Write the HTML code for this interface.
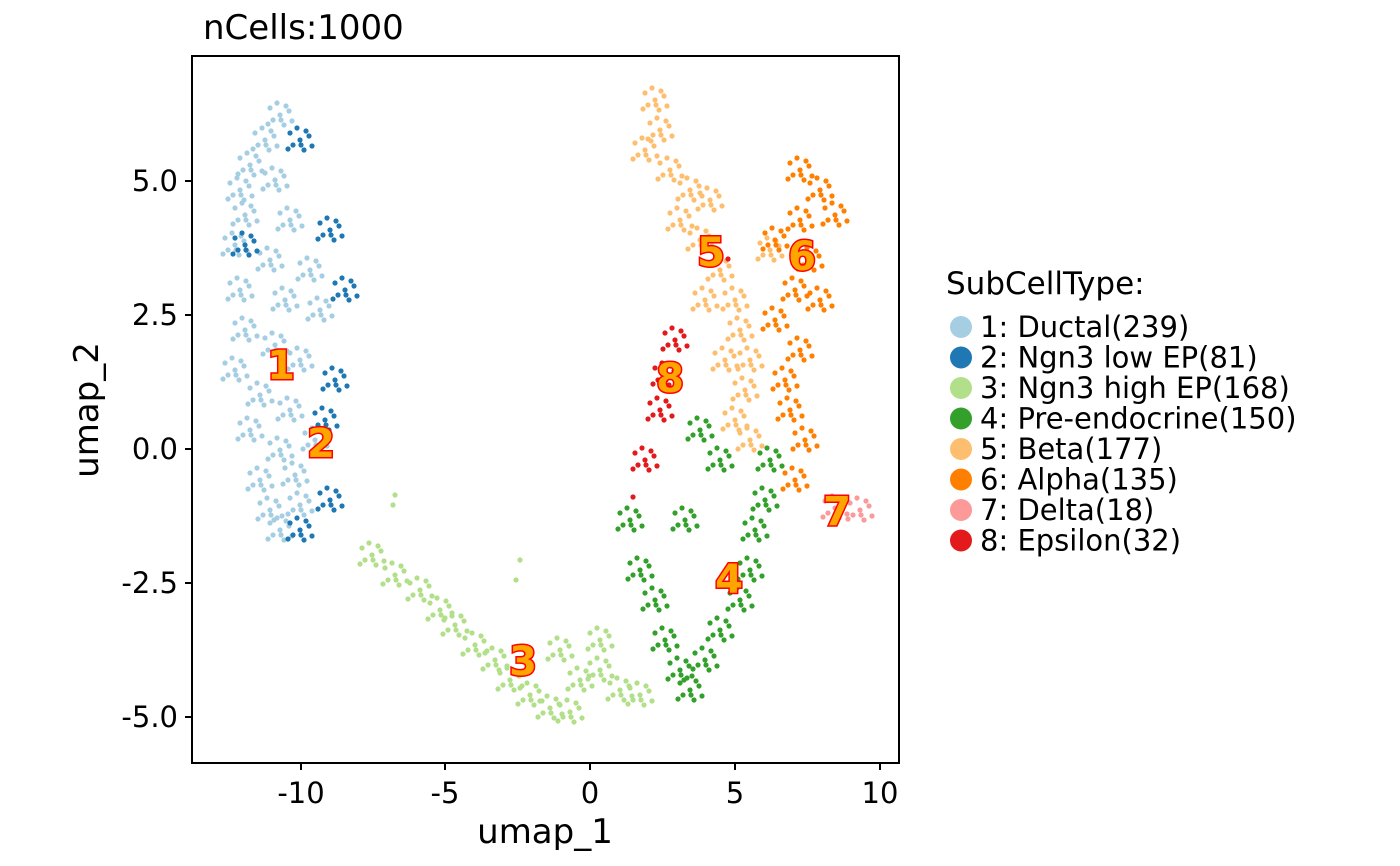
<!DOCTYPE html>
<html><head><meta charset="utf-8"><style>
html,body{margin:0;padding:0;background:#fff;}
svg{display:block;font-family:"DejaVu Sans","Liberation Sans",sans-serif;}
</style></head><body>
<svg width="1400" height="866" xmlns="http://www.w3.org/2000/svg" xmlns:xlink="http://www.w3.org/1999/xlink">
<defs>
<g id="b">
<circle cx="0" cy="0" r="2.6"/><circle cx="9" cy="-4" r="2.6"/><circle cx="-7" cy="5" r="2.6"/><circle cx="4" cy="10" r="2.6"/><circle cx="-10" cy="-7" r="2.6"/><circle cx="12" cy="6" r="2.6"/><circle cx="-3" cy="-12" r="2.6"/><circle cx="6" cy="-9" r="2.6"/><circle cx="-12" cy="9" r="2.6"/><circle cx="1" cy="5" r="2.6"/>
</g>
</defs>
<rect width="1400" height="866" fill="#fff"/>
<g fill="#A6CEE3">
<use href="#b" x="280" y="115"/><use href="#b" x="265" y="140"/><use href="#b" x="250" y="165"/><use href="#b" x="240" y="190"/><use href="#b" x="275" y="180"/><use href="#b" x="245" y="215"/><use href="#b" x="290" y="220"/><use href="#b" x="235" y="245"/><use href="#b" x="270" y="260"/><use href="#b" x="310" y="270"/><use href="#b" x="240" y="290"/><use href="#b" x="285" y="300"/><use href="#b" x="320" y="310"/><use href="#b" x="245" y="330"/><use href="#b" x="275" y="345"/><use href="#b" x="235" y="370"/><use href="#b" x="300" y="360"/><use href="#b" x="260" y="395"/><use href="#b" x="290" y="410"/><use href="#b" x="250" y="430"/><use href="#b" x="280" y="450"/><use href="#b" x="315" y="440"/><use href="#b" x="260" y="480"/><use href="#b" x="295" y="475"/><use href="#b" x="270" y="510"/><use href="#b" x="300" y="505"/><use href="#b" x="280" y="530"/>
</g>
<g fill="#1F78B4">
<use href="#b" x="300" y="140"/><use href="#b" x="330" y="230"/><use href="#b" x="345" y="290"/><use href="#b" x="245" y="245"/><use href="#b" x="335" y="380"/><use href="#b" x="325" y="420"/><use href="#b" x="330" y="500"/><use href="#b" x="300" y="530"/>
</g>
<g fill="#B2DF8A">
<use href="#b" x="372" y="555"/><use href="#b" x="395" y="575"/><use href="#b" x="420" y="590"/><use href="#b" x="440" y="610"/><use href="#b" x="455" y="625"/><use href="#b" x="475" y="645"/><use href="#b" x="495" y="660"/><use href="#b" x="510" y="680"/><use href="#b" x="530" y="695"/><use href="#b" x="550" y="708"/><use href="#b" x="570" y="712"/><use href="#b" x="580" y="680"/><use href="#b" x="600" y="670"/><use href="#b" x="620" y="690"/><use href="#b" x="640" y="695"/><use href="#b" x="560" y="650"/><use href="#b" x="600" y="640"/>
<circle cx="395" cy="495" r="2.6"/><circle cx="393" cy="505" r="2.6"/><circle cx="520" cy="560" r="2.6"/><circle cx="516" cy="580" r="2.6"/>
</g>
<g fill="#33A02C">
<use href="#b" x="630" y="520"/><use href="#b" x="640" y="570"/><use href="#b" x="655" y="600"/><use href="#b" x="665" y="640"/><use href="#b" x="680" y="670"/><use href="#b" x="690" y="690"/><use href="#b" x="705" y="660"/><use href="#b" x="720" y="630"/><use href="#b" x="740" y="600"/><use href="#b" x="750" y="570"/><use href="#b" x="755" y="530"/><use href="#b" x="765" y="500"/><use href="#b" x="770" y="460"/><use href="#b" x="720" y="460"/><use href="#b" x="700" y="430"/><use href="#b" x="685" y="520"/>
</g>
<g fill="#FDBF6F">
<use href="#b" x="655" y="100"/><use href="#b" x="660" y="130"/><use href="#b" x="645" y="150"/><use href="#b" x="670" y="170"/><use href="#b" x="690" y="190"/><use href="#b" x="710" y="200"/><use href="#b" x="680" y="220"/><use href="#b" x="700" y="240"/><use href="#b" x="720" y="270"/><use href="#b" x="705" y="300"/><use href="#b" x="735" y="300"/><use href="#b" x="740" y="330"/><use href="#b" x="725" y="360"/><use href="#b" x="750" y="360"/><use href="#b" x="745" y="390"/><use href="#b" x="735" y="420"/><use href="#b" x="750" y="440"/><use href="#b" x="770" y="250"/>
</g>
<g fill="#FF7F00">
<use href="#b" x="800" y="170"/><use href="#b" x="820" y="190"/><use href="#b" x="835" y="215"/><use href="#b" x="800" y="220"/><use href="#b" x="775" y="240"/><use href="#b" x="810" y="260"/><use href="#b" x="795" y="290"/><use href="#b" x="820" y="300"/><use href="#b" x="775" y="320"/><use href="#b" x="800" y="350"/><use href="#b" x="785" y="380"/><use href="#b" x="790" y="410"/><use href="#b" x="805" y="440"/><use href="#b" x="795" y="480"/>
</g>
<g fill="#FB9A99">
<use href="#b" x="835" y="508"/><use href="#b" x="860" y="510"/>
</g>
<g fill="#E31A1C">
<use href="#b" x="675" y="340"/><use href="#b" x="665" y="375"/><use href="#b" x="660" y="410"/><use href="#b" x="645" y="460"/>
<circle cx="728" cy="259" r="2.6"/><circle cx="633" cy="497" r="2.6"/>
</g>
<rect x="192" y="56" width="707" height="707" fill="none" stroke="#000" stroke-width="2"/>
<g stroke="#000" stroke-width="2">
<line x1="301" y1="763" x2="301" y2="770"/><line x1="445" y1="763" x2="445" y2="770"/><line x1="590" y1="763" x2="590" y2="770"/><line x1="735" y1="763" x2="735" y2="770"/><line x1="880" y1="763" x2="880" y2="770"/>
<line x1="185" y1="181" x2="192" y2="181"/><line x1="185" y1="315" x2="192" y2="315"/><line x1="185" y1="449" x2="192" y2="449"/><line x1="185" y1="583" x2="192" y2="583"/><line x1="185" y1="717" x2="192" y2="717"/>
</g>
<g font-size="29" fill="#000" text-anchor="middle">
<text x="301" y="803">-10</text><text x="445" y="803">-5</text><text x="590" y="803">0</text><text x="735" y="803">5</text><text x="880" y="803">10</text>
</g>
<g font-size="29" fill="#000" text-anchor="end">
<text x="178" y="191">5.0</text><text x="178" y="325">2.5</text><text x="178" y="459">0.0</text><text x="178" y="593">-2.5</text><text x="178" y="727">-5.0</text>
</g>
<text x="545" y="843" font-size="34" text-anchor="middle">umap_1</text>
<text x="0" y="0" font-size="34" text-anchor="middle" transform="translate(98,410) rotate(-90)">umap_2</text>
<text x="203" y="39" font-size="34">nCells:1000</text>
<g font-size="40" font-weight="bold" fill="#FFA500" stroke="#FF0000" stroke-width="3" paint-order="stroke" text-anchor="middle">
<text x="281" y="379">1</text><text x="321" y="457">2</text><text x="523" y="675">3</text><text x="729" y="593">4</text><text x="711" y="266">5</text><text x="802" y="270">6</text><text x="837" y="525">7</text><text x="670" y="392">8</text>
</g>
<text x="946" y="294" font-size="31">SubCellType:</text>
<g font-size="29">
<circle cx="961" cy="327" r="11" fill="#A6CEE3"/><text x="980" y="337">1: Ductal(239)</text>
<circle cx="961" cy="357.5" r="11" fill="#1F78B4"/><text x="980" y="367.5">2: Ngn3 low EP(81)</text>
<circle cx="961" cy="388" r="11" fill="#B2DF8A"/><text x="980" y="398">3: Ngn3 high EP(168)</text>
<circle cx="961" cy="418.5" r="11" fill="#33A02C"/><text x="980" y="428.5">4: Pre-endocrine(150)</text>
<circle cx="961" cy="449" r="11" fill="#FDBF6F"/><text x="980" y="459">5: Beta(177)</text>
<circle cx="961" cy="479.5" r="11" fill="#FF7F00"/><text x="980" y="489.5">6: Alpha(135)</text>
<circle cx="961" cy="510" r="11" fill="#FB9A99"/><text x="980" y="520">7: Delta(18)</text>
<circle cx="961" cy="540.5" r="11" fill="#E31A1C"/><text x="980" y="550.5">8: Epsilon(32)</text>
</g>
</svg>
</body></html>
